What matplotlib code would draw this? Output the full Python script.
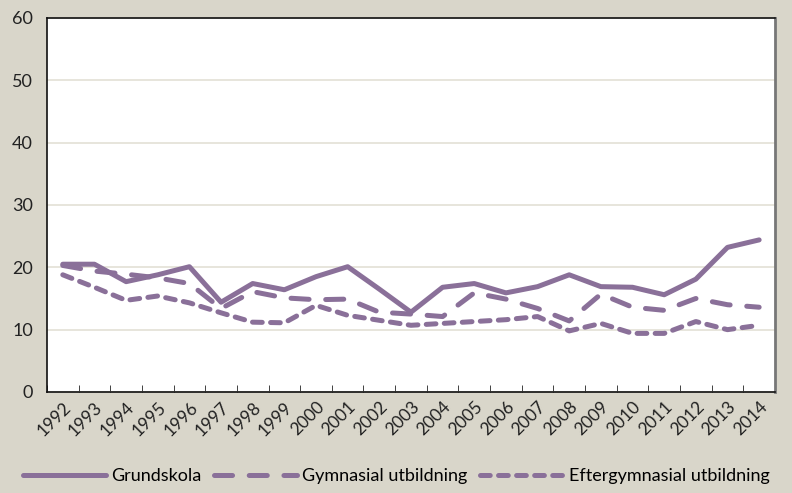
import matplotlib
matplotlib.use("Agg")
import matplotlib.pyplot as plt
import numpy as np

plt.rcParams['font.family'] = ['Lato', 'DejaVu Sans']
plt.rcParams['lines.scale_dashes'] = False

years = [str(y) for y in range(1992, 2015)]
grundskola = [20.5, 20.5, 17.7, 18.8, 20.1, 14.4, 17.4, 16.4, 18.5, 20.1, 16.5, 12.8,
              16.8, 17.4, 15.9, 16.9, 18.8, 16.9, 16.8, 15.6, 18.1, 23.2, 24.4]
gymnasial = [20.3, 19.4, 18.9, 18.3, 17.4, 13.4, 16.1, 15.1, 14.8, 14.9, 12.8, 12.5,
             12.1, 15.9, 14.9, 13.4, 11.4, 15.7, 13.6, 13.1, 15.0, 14.0, 13.6]
eftergymnasial = [18.8, 16.8, 14.7, 15.4, 14.3, 12.7, 11.2, 11.1, 13.9, 12.3, 11.5, 10.7,
                  11.0, 11.3, 11.6, 12.1, 9.8, 11.0, 9.4, 9.4, 11.3, 10.0, 10.7]

col = '#8a7099'
bg = '#d9d6ca'

fig = plt.figure(figsize=(7.92, 4.93), dpi=100, facecolor=bg)
ax = fig.add_axes([0.0593, 0.2049, 0.9192, 0.7586])
ax.set_facecolor('white')

x = np.arange(len(years))
ax.plot(x, grundskola, color=col, lw=3.6, solid_capstyle='round', label='Grundskola')
ax.plot(x, gymnasial, color=col, lw=3.6, dashes=(13, 12), dash_capstyle='round',
        label='Gymnasial utbildning')
ax.plot(x, eftergymnasial, color=col, lw=3.6, dashes=(7, 6), dash_capstyle='round',
        label='Eftergymnasial utbildning')

ax.set_ylim(0, 60)
ax.set_yticks(range(0, 61, 10))
ax.set_xlim(-0.5, len(years) - 0.5)
ax.grid(axis='y', color='#e3e0d6', lw=1.2)
ax.set_axisbelow(True)
ax.tick_params(axis='y', length=0, labelsize=13, pad=10, colors='#222222')

ax.set_xticks(x)
ax.set_xticklabels(years, rotation=45, ha='right', rotation_mode='anchor', fontsize=12.5)
ax.tick_params(axis='x', length=0, pad=5, colors='#222222')
ax.set_xticks(np.arange(-0.5, len(years)), minor=True)
ax.tick_params(axis='x', which='minor', direction='in', length=5, color='#222222')

for s in ['left', 'bottom', 'top']:
    ax.spines[s].set_color('#111111')
    ax.spines[s].set_linewidth(1.2)
ax.spines['right'].set_color('#777777')
ax.spines['right'].set_linewidth(2)

fig.legend(loc='lower center', bbox_to_anchor=(0.5, -0.015), ncol=3, frameon=False,
           fontsize=13, handlelength=4.6, columnspacing=0.7, handletextpad=0.3)

fig.savefig('out.png', dpi=100, facecolor=bg)
